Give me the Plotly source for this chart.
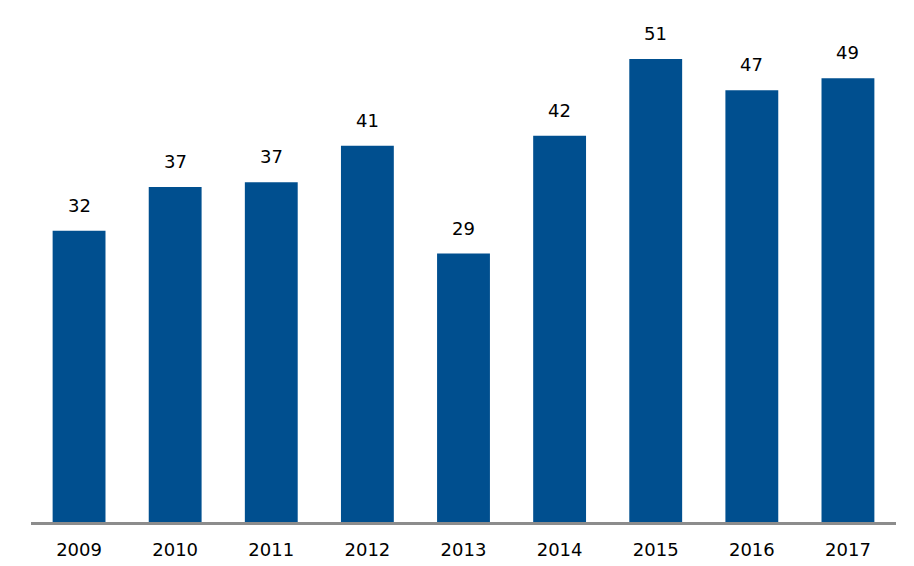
import plotly.graph_objects as go

years = ["2009", "2010", "2011", "2012", "2013", "2014", "2015", "2016", "2017"]
values = [31.9, 36.7, 37.2, 41.2, 29.4, 42.3, 50.7, 47.3, 48.6]

FONT = "Verdana, DejaVu Sans, sans-serif"

fig = go.Figure()
fig.add_trace(go.Bar(x=years, y=values, marker=dict(color="#004F8F", line=dict(width=0)),
                     hoverinfo="skip"))

# annotations on a category axis are placed by category index
for i, v in enumerate(values):
    fig.add_annotation(x=i, y=v, xref="x", yref="y", text=f"{v:.0f}", showarrow=False,
                       yanchor="bottom", yshift=13,
                       font=dict(family=FONT, size=18, color="#000000"))

fig.update_xaxes(type="category", categoryorder="array", categoryarray=years,
                 showline=True, linecolor="#8C8C8C", linewidth=3, ticks="",
                 showgrid=False, tickfont=dict(family=FONT, size=18, color="#000000"),
                 ticklabelstandoff=9)
fig.update_yaxes(range=[0, 56.08], visible=False, showgrid=False, zeroline=False)

fig.update_layout(
    width=914, height=566,
    margin=dict(l=23, r=26, t=2, b=52, autoexpand=False),
    paper_bgcolor="white", plot_bgcolor="white",
    bargap=0.45,
    showlegend=False,
)

fig.write_html("out.html")
